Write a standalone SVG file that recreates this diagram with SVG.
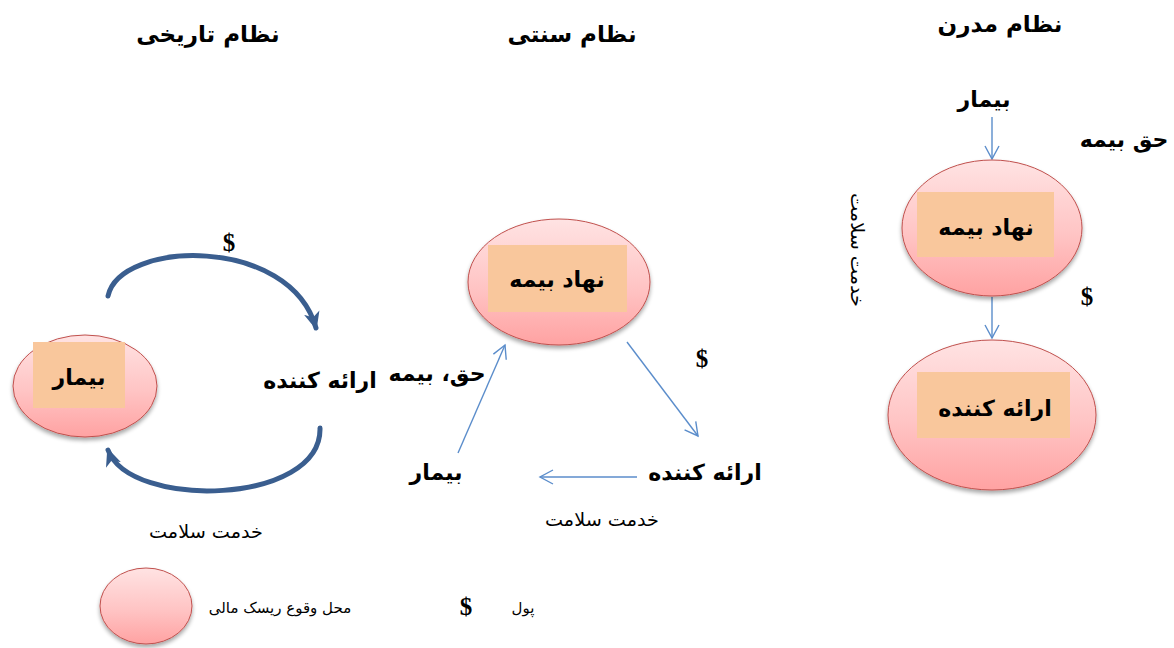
<svg xmlns="http://www.w3.org/2000/svg" width="1174" height="648" viewBox="0 0 1174 648">
<defs>
<linearGradient id="pinkGrad" x1="0" y1="0" x2="0" y2="1">
<stop offset="0" stop-color="#FFE3E3"/>
<stop offset="0.55" stop-color="#FFC4C4"/>
<stop offset="1" stop-color="#FFA2A2"/>
</linearGradient>
<filter id="shadow" x="-20%" y="-20%" width="140%" height="150%">
<feGaussianBlur in="SourceAlpha" stdDeviation="2"/>
<feOffset dx="0" dy="3" result="b"/>
<feComponentTransfer><feFuncA type="linear" slope="0.35"/></feComponentTransfer>
<feMerge><feMergeNode/><feMergeNode in="SourceGraphic"/></feMerge>
</filter>
<marker id="thickHead" markerUnits="userSpaceOnUse" markerWidth="20" markerHeight="20" viewBox="0 0 20 20" refX="16" refY="10" orient="auto">
<path d="M0,2 L18,10 L0,18 L5,10 Z" fill="#3A5E8F"/>
</marker>
<marker id="openHead" markerUnits="userSpaceOnUse" markerWidth="20" markerHeight="20" viewBox="0 0 20 20" refX="15" refY="10" orient="auto">
<path d="M2,3 L15,10 L2,17" fill="none" stroke="#5B8DCB" stroke-width="1.4"/>
</marker>
</defs>
<style>
.ell{fill:url(#pinkGrad);stroke:#C0504D;stroke-width:1;filter:url(#shadow)}
.box{fill:#F9C79C}
.t{font-family:"DejaVu Sans","Noto Sans",sans-serif;fill:#000;text-anchor:middle}
.b{font-weight:bold;font-size:22px}
.title{font-weight:bold;font-size:23px}
.r{font-size:18px}
.lg{font-size:15px}
.dollar{font-family:"Liberation Serif","DejaVu Serif",serif;font-weight:bold;font-size:25px;text-anchor:middle;fill:#000}
.thick{fill:none;stroke:#3A5E8F;stroke-width:5;stroke-linecap:round}
.thin{fill:none;stroke:#5B8DCB;stroke-width:1.4}
</style>

<g id="titles">
<text class="t title" x="208" y="42" direction="rtl" unicode-bidi="embed">نظام تاریخی</text>
<text class="t title" x="572" y="42" direction="rtl" unicode-bidi="embed">نظام سنتی</text>
<text class="t title" x="1000" y="32" direction="rtl" unicode-bidi="embed">نظام مدرن</text>
</g>

<g id="connectors">
<path class="thick" d="M108,296 C120,240 290,235 316,328" marker-end="url(#thickHead)"/>
<path class="thick" d="M320,428 C322,505 130,510 108,450" marker-end="url(#thickHead)"/>
<line class="thin" x1="458" y1="453" x2="505" y2="345" marker-end="url(#openHead)"/>
<line class="thin" x1="627" y1="342" x2="698" y2="436" marker-end="url(#openHead)"/>
<line class="thin" x1="637" y1="477" x2="540" y2="477" marker-end="url(#openHead)"/>
<line class="thin" x1="992" y1="117" x2="992" y2="159" marker-end="url(#openHead)"/>
<line class="thin" x1="992" y1="297" x2="992" y2="338" marker-end="url(#openHead)"/>
</g>

<g id="historical-patient">
<ellipse class="ell" cx="85" cy="386" rx="72" ry="51"/>
<rect class="box" x="33" y="342" width="92" height="66"/>
<text class="t b" x="79" y="385" direction="rtl" unicode-bidi="embed">بیمار</text>
</g>
<g id="historical-labels">
<text class="dollar" x="229" y="251">$</text>
<text class="t b" x="320" y="388" direction="rtl" unicode-bidi="embed">ارائه کننده</text>
<text class="t r" x="206" y="538" direction="rtl" unicode-bidi="embed" textLength="114" lengthAdjust="spacingAndGlyphs">خدمت سلامت</text>
</g>

<g id="traditional-insurer">
<ellipse class="ell" cx="559" cy="282" rx="91" ry="63"/>
<rect class="box" x="488" y="245" width="139" height="67"/>
<text class="t b" x="557" y="287" direction="rtl" unicode-bidi="embed">نهاد بیمه</text>
</g>
<g id="traditional-labels">
<text class="t b" x="437" y="381" direction="rtl" unicode-bidi="embed">حق، بیمه</text>
<text class="dollar" x="702" y="367">$</text>
<text class="t b" x="705" y="480" direction="rtl" unicode-bidi="embed">ارائه کننده</text>
<text class="t b" x="436" y="480" direction="rtl" unicode-bidi="embed">بیمار</text>
<text class="t r" x="602" y="526" direction="rtl" unicode-bidi="embed" textLength="114" lengthAdjust="spacingAndGlyphs">خدمت سلامت</text>
</g>

<g id="modern-insurer">
<ellipse class="ell" cx="992" cy="228" rx="90" ry="68"/>
<rect class="box" x="917" y="192" width="137" height="65"/>
<text class="t b" x="986" y="235" direction="rtl" unicode-bidi="embed">نهاد بیمه</text>
</g>
<g id="modern-provider">
<ellipse class="ell" cx="992" cy="415" rx="104" ry="75"/>
<rect class="box" x="917" y="372" width="153" height="66"/>
<text class="t b" x="995" y="416" direction="rtl" unicode-bidi="embed">ارائه کننده</text>
</g>
<g id="modern-labels">
<text class="t b" x="984" y="107" direction="rtl" unicode-bidi="embed">بیمار</text>
<text class="t b" x="1124" y="147" direction="rtl" unicode-bidi="embed">حق بیمه</text>
<text class="dollar" x="1087" y="305">$</text>
<text class="t r" x="0" y="0" direction="rtl" unicode-bidi="embed" textLength="114" lengthAdjust="spacingAndGlyphs" transform="translate(851,250) rotate(90)">خدمت سلامت</text>
</g>

<g id="legend">
<ellipse class="ell" cx="146" cy="606" rx="46" ry="38"/>
<text class="t lg" x="280" y="613" direction="rtl" unicode-bidi="embed">محل وقوع ریسک مالی</text>
<text class="dollar" x="466" y="615">$</text>
<text class="t lg" x="523" y="613" direction="rtl" unicode-bidi="embed">پول</text>
</g>
</svg>
